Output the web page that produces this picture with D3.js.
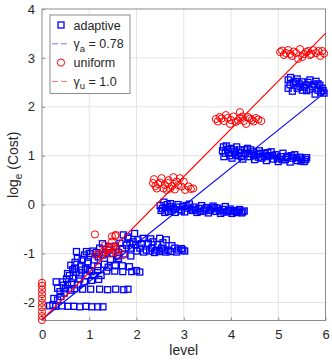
<!DOCTYPE html>
<html>
<head>
<meta charset="utf-8">
<script src="https://cdn.jsdelivr.net/npm/d3@7"></script>
<style>
  body { margin: 0; background: #fff; }
  svg { display: block; font-family: "Liberation Sans", Arial, sans-serif; }
</style>
</head>
<body>
<div id="chart"></div>
<script>
// data: [level, log cost]
var adaptivePts = [
  // lowest strip
  [0.16,-2.07],[0.23,-2.05],[0.29,-2.08],[0.42,-2.07],[0.55,-2.08],[0.67,-2.08],[0.80,-2.09],[0.93,-2.08],[1.05,-2.09],[1.18,-2.09],[1.29,-2.09],
  [0.33,-1.95],[0.40,-1.88],[0.47,-1.81],[0.25,-1.92],[0.38,-1.78],
  // strip near -1.7
  [0.33,-1.71],[0.50,-1.72],[0.61,-1.75],[0.69,-1.72],[0.86,-1.73],[1.03,-1.73],[1.22,-1.73],[1.39,-1.74],[1.56,-1.73],[1.73,-1.74],[1.82,-1.73],
  [0.30,-1.58],[0.44,-1.58],[0.54,-1.64],[0.76,-1.64],[0.90,-1.58],[1.05,-1.55],[1.20,-1.53],
  [0.45,-1.65],[0.52,-1.52],[0.62,-1.60],[0.80,-1.52],[0.95,-1.45],[1.10,-1.45],[1.25,-1.45],
  // strip near -1.35
  [0.54,-1.41],[0.65,-1.51],[0.79,-1.44],[0.65,-1.33],[0.84,-1.34],[1.01,-1.35],[1.18,-1.35],[1.37,-1.36],[1.54,-1.36],[1.71,-1.37],[1.90,-1.37],[2.07,-1.38],
  [0.61,-1.24],[0.69,-1.30],[0.83,-1.27],[0.97,-1.20],[1.04,-1.37],[1.11,-1.13],[1.18,-1.27],[1.32,-1.22],[1.45,-1.12],[1.55,-1.25],[1.62,-1.10],
  [0.75,-1.10],[0.90,-1.03],[0.97,-1.17],[1.00,-1.00],[1.19,-1.07],[1.29,-1.03],
  [0.58,-1.45],[0.72,-1.38],[0.70,-1.18],[0.85,-1.12],[0.92,-1.30],[1.40,-1.28],[1.70,-1.25],[1.85,-1.27],[2.00,-1.35],
  // strip near -0.9
  [0.73,-0.96],[0.94,-0.96],[1.22,-0.89],[1.43,-0.86],[1.65,-0.79],[1.82,-0.69],[1.96,-0.59],[1.72,-0.62],[1.82,-0.66],[1.93,-0.76],
  [2.03,-0.72],[2.14,-0.69],[2.25,-0.79],[2.35,-0.76],[2.49,-0.69],[2.63,-0.72],[1.79,-0.83],[1.86,-0.79],[1.89,-0.89],
  [1.35,-0.99],[1.50,-1.00],[1.62,-0.98],[1.75,-1.01],[2.07,-0.89],[2.21,-0.93],[2.32,-0.89],[2.42,-0.93],[2.53,-0.89],
  [2.67,-0.93],[2.81,-0.89],[2.88,-0.93],[2.75,-0.84],[2.95,-0.90],[3.02,-0.95],[2.62,-0.97],
  [2.00,-0.95],[2.15,-0.97],[2.28,-0.95],[2.38,-0.98],[2.48,-0.96],[2.58,-0.93],[2.72,-0.96],[2.85,-0.97],[2.98,-0.93],
  [1.70,-0.90],[1.98,-0.82],[2.10,-0.80],[2.45,-0.82],[2.30,-0.70],[2.56,-0.78],[1.42,-0.93],[1.55,-0.85],[1.28,-0.80],
  [1.08,-0.95],[1.15,-0.98],[1.60,-1.05],[1.88,-1.05],
  // strip near -0.1
  [2.50,-0.02],[2.52,-0.12],[2.58,0.05],[2.62,-0.06],[2.68,-0.14],[2.72,0.02],[2.78,-0.08],[2.82,-0.16],[2.88,0.00],[2.92,-0.10],
  [2.98,-0.04],[3.02,-0.15],[3.08,-0.07],[3.12,0.01],[3.18,-0.12],[3.22,-0.05],[3.28,-0.16],[3.32,-0.08],[3.38,-0.02],[3.42,-0.13],
  [3.48,-0.06],[3.52,-0.17],[3.58,-0.09],[3.62,-0.03],[3.68,-0.14],[3.72,-0.07],[3.78,-0.18],[3.82,-0.10],[3.88,-0.04],[3.92,-0.15],
  [3.98,-0.09],[4.02,-0.18],[4.08,-0.12],[4.12,-0.16],[4.18,-0.10],[4.22,-0.17],[4.28,-0.13],
  [2.55,-0.08],[2.65,0.00],[2.75,-0.11],[2.85,-0.05],[2.95,-0.13],[3.05,-0.02],[3.15,-0.09],[3.25,-0.11],[3.35,-0.14],[3.45,-0.09],
  [3.55,-0.12],[3.65,-0.06],[3.75,-0.12],[3.85,-0.15],[3.95,-0.12],[4.05,-0.14],[4.15,-0.13],[4.25,-0.15],[2.60,-0.16],[2.70,-0.04],
  // strip near 1.0
  [3.82,1.10],[3.85,0.98],[3.90,1.20],[3.95,1.05],[4.00,1.15],[4.02,0.95],[4.08,1.08],[4.12,1.18],[4.15,1.00],[4.20,1.12],
  [4.25,0.93],[4.30,1.05],[4.35,1.15],[4.40,0.98],[4.45,1.08],[4.50,0.92],[4.55,1.02],[4.60,1.10],[4.65,0.95],[4.70,1.05],
  [4.75,0.90],[4.80,1.00],[4.85,1.08],[4.90,0.93],[4.95,1.02],[5.00,0.88],[5.05,0.98],[5.10,1.05],[5.15,0.92],[5.20,0.99],
  [5.25,0.87],[5.30,0.95],[5.35,1.02],[5.40,0.90],[5.45,0.97],[5.50,0.93],[5.55,0.88],[5.60,0.96],
  [3.84,1.18],[3.88,1.05],[3.93,1.13],[3.98,1.00],[4.05,1.12],[4.10,1.03],[4.18,1.06],[4.22,0.98],[4.28,1.12],[4.38,1.04],
  [4.42,1.12],[4.48,1.00],[4.58,0.97],[4.62,1.05],[4.72,0.98],[4.78,1.06],[4.88,1.00],[4.98,0.95],[5.08,0.92],[5.18,0.96],
  [5.28,1.00],[5.38,0.96],[5.48,0.89],[5.58,0.92],
  // strip near 2.4
  [5.21,2.55],[5.21,2.38],[5.32,2.49],[5.40,2.57],[5.40,2.38],[5.51,2.51],[5.51,2.34],[5.59,2.45],[5.67,2.55],[5.67,2.36],
  [5.76,2.45],[5.84,2.34],[5.84,2.47],[5.93,2.38],[5.97,2.28],[5.30,2.32],[5.78,2.26],[5.46,2.42],
  [5.25,2.45],[5.36,2.52],[5.44,2.47],[5.55,2.40],[5.63,2.50],[5.72,2.41],[5.80,2.52],[5.88,2.44],[5.95,2.33],[5.26,2.60],
  [5.60,2.33],[5.90,2.30]
];

var uniformPts = [
  [0,-2.36],[0,-2.28],[0,-2.19],[0,-2.10],[0,-2.01],[0,-1.92],[0,-1.83],[0,-1.74],[0,-1.66],[0,-1.60],
  [1.12,-0.61],[1.56,-0.62],[1.55,-0.64],[1.13,-1.03],[1.26,-1.03],[1.33,-0.83],[1.40,-0.93],[1.48,-0.76],[1.51,-0.86],
  [1.55,-0.96],[1.62,-1.03],[1.72,-1.03],[1.30,-0.96],[1.19,-1.00],[1.44,-1.00],[1.37,-0.90],[1.58,-0.90],[1.48,-0.65],[1.43,-0.86],
  [2.37,0.52],[2.46,0.42],[2.57,0.33],[2.67,0.44],[2.78,0.56],[2.81,0.31],[2.92,0.54],[2.95,0.37],[3.03,0.30],[3.10,0.37],
  [3.20,0.33],[2.43,0.33],[2.64,0.30],[2.88,0.40],[2.71,0.33],[2.53,0.54],[2.35,0.44],[3.00,0.47],
  [2.40,0.38],[2.50,0.45],[2.60,0.40],[2.75,0.38],[2.85,0.47],[3.15,0.32],[2.68,0.50],
  [3.68,1.75],[3.76,1.79],[3.85,1.71],[3.93,1.77],[4.19,1.89],[4.10,1.69],[4.19,1.77],[4.27,1.71],[4.36,1.79],[4.44,1.73],
  [4.53,1.77],[4.64,1.71],[3.98,1.65],[4.32,1.65],[3.89,1.83],[4.05,1.80],
  [3.72,1.70],[3.80,1.76],[4.00,1.73],[4.15,1.72],[4.24,1.80],[4.40,1.76],[4.48,1.70],[4.58,1.74],
  [5.04,3.12],[5.12,3.06],[5.21,3.16],[5.29,3.04],[5.38,3.10],[5.46,3.18],[5.51,3.02],[5.59,3.12],[5.67,3.06],[5.74,3.16],
  [5.80,3.10],[5.89,3.04],[5.93,3.14],[5.42,2.98],
  [5.08,3.15],[5.16,3.10],[5.25,3.08],[5.33,3.13],[5.55,3.08],[5.63,3.14],[5.70,3.08],[5.85,3.14],[5.97,3.09]
];

// fitted lines, end points
var adaptiveFit = [[0,-2.35],[6,2.30]];
var uniformFit = [[0,-2.36],[6,3.50]];

var xTicks = [0, 1, 2, 3, 4, 5, 6];
var yTicks = [-2, -1, 0, 1, 2, 3, 4];

var legendItems = [
  {kind: 'square', color: '#0000ff', label: 'adaptive'},
  {kind: 'dash', color: '#0000ff', sym: 'a', label: ' = 0.78'},
  {kind: 'circle', color: '#ff0000', label: 'uniform'},
  {kind: 'dash', color: '#ff0000', sym: 'u', label: ' = 1.0'}
];

var width = 332, height = 360;
var margin = {left: 42, right: 6.5, top: 9, bottom: 39.5};
var innerW = width - margin.left - margin.right,
    innerH = height - margin.top - margin.bottom;
var axisColor = '#262626';

var svg = d3.select('#chart').append('svg')
  .attr('width', width)
  .attr('height', height);

var x = d3.scaleLinear().domain([0, 6]).range([0, innerW]);
var y = d3.scaleLinear().domain([-2.37, 4]).range([innerH, 0]);

var g = svg.append('g').attr('transform', 'translate(' + margin.left + ',' + margin.top + ')');

// grid
g.append('g').selectAll('line').data(xTicks.slice(1, -1)).enter().append('line')
  .attr('x1', function(d) { return x(d); }).attr('x2', function(d) { return x(d); })
  .attr('y1', 0).attr('y2', innerH)
  .attr('stroke', '#e3e3e3');
g.append('g').selectAll('line').data(yTicks.slice(0, -1)).enter().append('line')
  .attr('y1', function(d) { return y(d); }).attr('y2', function(d) { return y(d); })
  .attr('x1', 0).attr('x2', innerW)
  .attr('stroke', '#e3e3e3');

// axes (ticks inside, like matlab)
var plain = function(d) { return String(d); };
var xAxis = g.append('g').attr('transform', 'translate(0,' + innerH + ')')
  .call(d3.axisBottom(x).tickValues(xTicks).tickFormat(plain).tickSize(-3).tickPadding(9).tickSizeOuter(0));
var yAxis = g.append('g')
  .call(d3.axisLeft(y).tickValues(yTicks).tickFormat(plain).tickSize(-3).tickPadding(7).tickSizeOuter(0));
[xAxis, yAxis].forEach(function(a) {
  a.select('.domain').remove();
  a.selectAll('line').attr('stroke', '#8c8c8c');
  a.selectAll('text').attr('fill', axisColor).style('font-size', '13px')
    .style('font-family', '"Liberation Sans", Arial, sans-serif');
});

// the box
g.append('rect')
  .attr('x', 0).attr('y', 0).attr('width', innerW).attr('height', innerH)
  .attr('fill', 'none').attr('stroke', '#8c8c8c').attr('stroke-width', 1);

// adaptive squares
var sq = 6;
g.append('g').selectAll('rect').data(adaptivePts).enter().append('rect')
  .attr('x', function(d) { return x(d[0]) - sq / 2; })
  .attr('y', function(d) { return y(d[1]) - sq / 2; })
  .attr('width', sq).attr('height', sq)
  .attr('fill', 'none').attr('stroke', '#0000ff').attr('stroke-width', 1.3);

// uniform circles
g.append('g').selectAll('circle').data(uniformPts).enter().append('circle')
  .attr('cx', function(d) { return x(d[0]); })
  .attr('cy', function(d) { return y(d[1]); })
  .attr('r', 3.6)
  .attr('fill', 'none').attr('stroke', '#ff0000').attr('stroke-width', 1);

// fit lines
var line = d3.line().x(function(d) { return x(d[0]); }).y(function(d) { return y(d[1]); });
g.append('path').datum(adaptiveFit).attr('d', line)
  .attr('fill', 'none').attr('stroke', '#0000ff').attr('stroke-width', 1.1);
g.append('path').datum(uniformFit).attr('d', line)
  .attr('fill', 'none').attr('stroke', '#ff0000').attr('stroke-width', 1.1);

// axis labels
svg.append('text')
  .attr('x', margin.left + innerW / 2).attr('y', 355)
  .attr('text-anchor', 'middle').attr('fill', axisColor)
  .style('font-size', '14px').text('level');

var yl = svg.append('text')
  .attr('transform', 'translate(18,' + (margin.top + innerH / 2) + ') rotate(-90)')
  .attr('text-anchor', 'middle').attr('fill', axisColor)
  .style('font-size', '14px');
yl.append('tspan').text('log');
yl.append('tspan').attr('dy', 4).style('font-size', '10px').text('e');
yl.append('tspan').attr('dy', -4).text('\u00a0(Cost)');

// legend
var leg = svg.append('g').attr('transform', 'translate(50,15)');
leg.append('rect')
  .attr('x', 0).attr('y', 0).attr('width', 80).attr('height', 78.5)
  .attr('fill', '#fff').attr('stroke', '#8c8c8c');
var rows = leg.selectAll('.row').data(legendItems).enter().append('g')
  .attr('class', 'row')
  .attr('transform', function(d, i) { return 'translate(0,' + (10 + i * 18.8) + ')'; });
rows.each(function(d) {
  var r = d3.select(this);
  if (d.kind === 'square') {
    r.append('rect').attr('x', 8).attr('y', -3).attr('width', 6).attr('height', 6)
      .attr('fill', 'none').attr('stroke', d.color).attr('stroke-width', 1.3);
  } else if (d.kind === 'circle') {
    r.append('circle').attr('cx', 11).attr('cy', 0).attr('r', 3.6)
      .attr('fill', 'none').attr('stroke', d.color);
  } else {
    r.append('line').attr('x1', 2).attr('x2', 20).attr('y1', 0).attr('y2', 0)
      .attr('stroke', d.color).attr('stroke-opacity', 0.55).attr('stroke-dasharray', '6,3');
  }
  var t = r.append('text').attr('x', 23.5).attr('y', 4.5)
    .attr('fill', axisColor).style('font-size', '12.5px');
  if (d.kind === 'dash') {
    t.append('tspan').text('\u03b3');
    t.append('tspan').attr('dy', 3.5).style('font-size', '9.5px').text(d.sym);
    t.append('tspan').attr('dy', -3.5).text(d.label);
  } else {
    t.text(d.label);
  }
});
</script>
</body>
</html>
